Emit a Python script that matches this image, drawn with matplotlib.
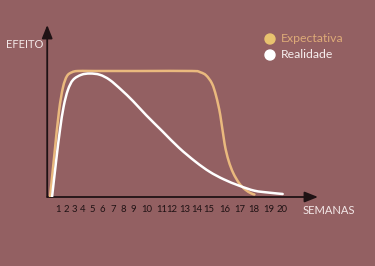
import matplotlib
matplotlib.use("Agg")
import matplotlib.pyplot as plt
from matplotlib.path import Path
from matplotlib.patches import PathPatch, Ellipse

# curves (week, effect; plateau = 1.0)
exp_weeks = [0.24, 0.6, 1.0, 1.34, 1.68, 2.1, 2.6, 4, 8, 12.3, 13.0, 13.5, 14.0,
             14.35, 14.7, 15.07, 15.4, 15.8, 16.3, 16.8, 17.3, 17.6]
exp_values = [0.0, 0.33, 0.68, 0.87, 0.96, 0.99, 1.0, 1.0, 1.0, 1.0, 0.99, 0.965,
              0.90, 0.80, 0.65, 0.42, 0.29, 0.19, 0.11, 0.06, 0.03, 0.02]

real_weeks = [0.41, 0.75, 1.08, 1.4, 1.76, 2.2, 2.9, 3.63, 4.47, 5.3, 6.3, 7.3,
              8.4, 9.8, 11.2, 12.6, 13.8, 15.0, 16.3, 17.6, 18.8, 20.0]
real_values = [0.0, 0.28, 0.53, 0.72, 0.85, 0.93, 0.97, 0.98, 0.97, 0.93, 0.85, 0.76,
               0.65, 0.52, 0.39, 0.28, 0.20, 0.14, 0.09, 0.05, 0.035, 0.024]

week_labels = [str(w) for w in range(1, 21)]
# the numbers were typed freehand in the original, so they sit unevenly (px from left)
label_px = [58, 66, 74, 83, 92, 102, 113, 123, 133, 147, 162, 172, 185, 196.5,
            209, 225, 240, 254, 269, 282]

bg = "#936062"
gold = "#EAB97E"
axis_col = "#1f1214"


def smooth_path(xs, ys):
    # Catmull-Rom through the read points, drawn as cubic Bezier segments
    pts = list(zip(xs, ys))
    verts = [pts[0]]
    codes = [Path.MOVETO]
    for i in range(len(pts) - 1):
        p0 = pts[i - 1] if i > 0 else pts[i]
        p1, p2 = pts[i], pts[i + 1]
        p3 = pts[i + 2] if i + 2 < len(pts) else pts[i + 1]
        c1 = (p1[0] + (p2[0] - p0[0]) / 6, p1[1] + (p2[1] - p0[1]) / 6)
        c2 = (p2[0] - (p3[0] - p1[0]) / 6, p2[1] - (p3[1] - p1[1]) / 6)
        verts += [c1, c2, p2]
        codes += [Path.CURVE4] * 3
    return Path(verts, codes)


fig = plt.figure(figsize=(3.75, 2.66), dpi=100, facecolor=bg)
ax = fig.add_axes([0.1259, 0.2594, 0.7221, 0.6466])
ax.set_facecolor(bg)
ax.set_xlim(0, 23)
ax.set_ylim(0, 1.365)
for s in ax.spines.values():
    s.set_visible(False)
ax.set_xticks([])
ax.set_yticks([])

# axes with arrows
ax.annotate("", xy=(0, 1.0), xytext=(0, 0), xycoords="axes fraction",
            arrowprops=dict(arrowstyle="-|>,head_length=0.8,head_width=0.32",
                            color=axis_col, lw=1.3, shrinkA=0, shrinkB=0))
ax.annotate("", xy=(1.0, 0), xytext=(0, 0), xycoords="axes fraction",
            arrowprops=dict(arrowstyle="-|>,head_length=0.8,head_width=0.32",
                            color=axis_col, lw=1.3, shrinkA=0, shrinkB=0))

ax.add_patch(PathPatch(smooth_path(exp_weeks, exp_values), fill=False,
                       edgecolor=gold, lw=1.8, capstyle="round", zorder=3))
ax.add_patch(PathPatch(smooth_path(real_weeks, real_values), fill=False,
                       edgecolor="white", lw=1.8, capstyle="round", zorder=4))

for lab, px in zip(week_labels, label_px):
    fig.text(px / 375, 1 - 210 / 266, lab, ha="center", va="center",
             fontsize=6.8, color=axis_col, family="Lato")

fig.text(43 / 375, 1 - 44 / 266, "EFEITO", ha="right", va="center", fontsize=8,
         color="#f3e8e8", family="Lato")
fig.text(303 / 375, 1 - 211 / 266, "SEMANAS", ha="left", va="center", fontsize=8,
         color="#f3e8e8", family="Lato")

# legend
fig.patches.append(Ellipse((270 / 375, 1 - 39 / 266), 10 / 375, 10 / 266,
                           transform=fig.transFigure, color="#E8C36F"))
fig.patches.append(Ellipse((270 / 375, 1 - 55 / 266), 10 / 375, 10 / 266,
                           transform=fig.transFigure, color="white"))
fig.text(281 / 375, 1 - 39 / 266, "Expectativa", ha="left", va="center", fontsize=8.8,
         color="#DDAA78", family="Lato")
fig.text(281 / 375, 1 - 55 / 266, "Realidade", ha="left", va="center", fontsize=8.8,
         color="#f6eeee", family="Lato")

fig.savefig("out.png", dpi=100, facecolor=bg)
